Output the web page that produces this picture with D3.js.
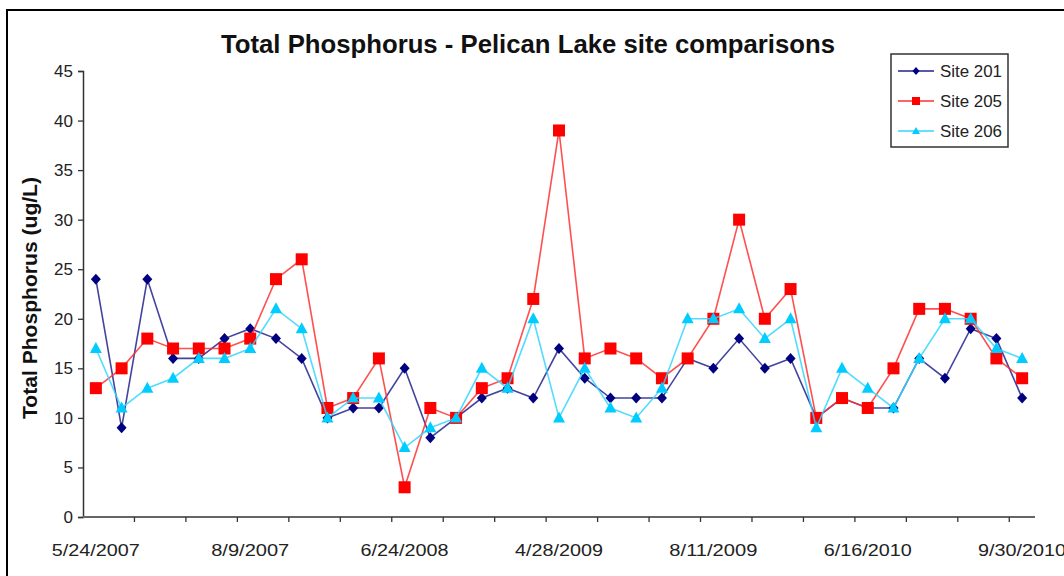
<!DOCTYPE html>
<html>
<head>
<meta charset="utf-8">
<script src="https://cdn.jsdelivr.net/npm/d3@7"></script>
<style>
  html, body { margin: 0; padding: 0; background: #fff; }
  svg { display: block; font-family: "Liberation Sans", Arial, sans-serif; }
</style>
</head>
<body>
<svg id="chart" width="1064" height="576"></svg>
<script>
// ---- data ----
const categories = d3.range(37);
const tickLabels = ["5/24/2007", "8/9/2007", "6/24/2008", "4/28/2009", "8/11/2009", "6/16/2010", "9/30/2010"];
const labelEvery = 6;
const site201 = [24, 9, 24, 16, 16, 18, 19, 18, 16, 10, 11, 11, 15, 8, 10, 12, 13, 12, 17, 14, 12, 12, 12, 16, 15, 18, 15, 16, 10, 12, 11, 11, 16, 14, 19, 18, 12];
const site205 = [13, 15, 18, 17, 17, 17, 18, 24, 26, 11, 12, 16, 3, 11, 10, 13, 14, 22, 39, 16, 17, 16, 14, 16, 20, 30, 20, 23, 10, 12, 11, 15, 21, 21, 20, 16, 14];
const site206 = [17, 11, 13, 14, 16, 16, 17, 21, 19, 10, 12, 12, 7, 9, 10, 15, 13, 20, 10, 15, 11, 10, 13, 20, 20, 21, 18, 20, 9, 15, 13, 11, 16, 20, 20, 17, 16];
const yTicks = [0, 5, 10, 15, 20, 25, 30, 35, 40, 45];
const seriesNames = ["Site 201", "Site 205", "Site 206"];

const series = [
  { name: seriesNames[0], values: site201, color: "#000080", line: "#22228f", shape: "diamond" },
  { name: seriesNames[1], values: site205, color: "#ff0000", line: "#ff3030", shape: "square" },
  { name: seriesNames[2], values: site206, color: "#00ccff", line: "#33d6ff", shape: "triangle" }
];

const svg = d3.select("#chart");
const pLeft = 83, pRight = 1035, pTop = 71, pBottom = 517;

// outer border
svg.append("rect").attr("x", 7).attr("y", 10).attr("width", 1070).attr("height", 600)
  .attr("fill", "none").attr("stroke", "#000").attr("stroke-width", 2);

const x = d3.scaleBand().domain(categories).range([pLeft, pRight]).padding(0);
const y = d3.scaleLinear().domain([0, 45]).range([pBottom, pTop]);
const cx = i => x(i) + x.bandwidth() / 2;

// title
svg.append("text").attr("x", 528).attr("y", 53).attr("text-anchor", "middle")
  .attr("font-size", 25).attr("font-weight", "bold").attr("fill", "#111")
  .attr("textLength", 614).attr("lengthAdjust", "spacingAndGlyphs")
  .text("Total Phosphorus - Pelican Lake site comparisons");

// y axis
const yAxis = d3.axisLeft(y).tickValues(yTicks).tickSize(5).tickPadding(5);
const gy = svg.append("g").attr("transform", `translate(${pLeft},0)`).call(yAxis);
gy.select(".domain").attr("stroke", "#333").attr("stroke-width", 1.5);
gy.selectAll(".tick line").attr("stroke", "#333").attr("stroke-width", 1.3);
gy.selectAll(".tick text").attr("font-size", 17).attr("fill", "#222")
  .attr("font-family", "Liberation Sans, Arial, sans-serif");

// x axis: ticks between categories, every 2 categories
const boundaryTicks = d3.range(0, categories.length + 1, 2).filter(k => k > 0 && k < categories.length);
const gx = svg.append("g").attr("transform", `translate(0,${pBottom})`);
gx.append("line").attr("x1", pLeft).attr("x2", pRight).attr("y1", 0).attr("y2", 0)
  .attr("stroke", "#666").attr("stroke-width", 2);
gx.selectAll("line.tk").data(boundaryTicks).enter().append("line").attr("class", "tk")
  .attr("x1", k => x(k)).attr("x2", k => x(k)).attr("y1", 0).attr("y2", 5)
  .attr("stroke", "#333").attr("stroke-width", 1.3);
gx.selectAll("text").data(tickLabels).enter().append("text")
  .attr("x", (d, i) => cx(i * labelEvery)).attr("y", 39).attr("text-anchor", "middle")
  .attr("font-size", 17).attr("fill", "#222")
  .attr("textLength", 88).attr("lengthAdjust", "spacingAndGlyphs")
  .text(d => d);
gx.selectAll("text").filter(d => d.length === 8).attr("textLength", 78);

// y axis title
svg.append("text").attr("transform", `translate(37,${(pTop + pBottom) / 2 + 4}) rotate(-90)`)
  .attr("text-anchor", "middle").attr("font-size", 20).attr("font-weight", "bold").attr("fill", "#111")
  .attr("textLength", 242).attr("lengthAdjust", "spacingAndGlyphs")
  .text("Total Phosphorus (ug/L)");

// markers
function marker(g, shape, color, px, py) {
  if (shape === "diamond") {
    g.append("path").attr("d", `M${px},${py - 5.5}L${px + 5},${py}L${px},${py + 5.5}L${px - 5},${py}Z`).attr("fill", color);
  } else if (shape === "square") {
    g.append("rect").attr("x", px - 6).attr("y", py - 6).attr("width", 12).attr("height", 12).attr("fill", color);
  } else {
    g.append("path").attr("d", `M${px},${py - 6.5}L${px + 6},${py + 4.5}L${px - 6},${py + 4.5}Z`).attr("fill", color);
  }
}

const line = d3.line().x((d, i) => cx(i)).y(d => y(d));
series.forEach(s => {
  const g = svg.append("g");
  g.append("path").attr("d", line(s.values)).attr("fill", "none")
    .attr("stroke", s.line).attr("stroke-width", 1.6).attr("stroke-opacity", 0.85);
  s.values.forEach((v, i) => marker(g, s.shape, s.color, cx(i), y(v)));
});

// legend
const lg = svg.append("g");
lg.append("rect").attr("x", 891).attr("y", 54).attr("width", 117).attr("height", 93)
  .attr("fill", "#fff").attr("stroke", "#333").attr("stroke-width", 1.5);
series.forEach((s, i) => {
  const ly = 71 + i * 30;
  lg.append("line").attr("x1", 898).attr("x2", 934).attr("y1", ly).attr("y2", ly)
    .attr("stroke", s.line).attr("stroke-width", 1.6);
  const mg = lg.append("g");
  if (s.shape === "diamond") {
    mg.append("path").attr("d", `M916,${ly - 4}L919.5,${ly}L916,${ly + 4}L912.5,${ly}Z`).attr("fill", s.color);
  } else if (s.shape === "square") {
    mg.append("rect").attr("x", 912).attr("y", ly - 4).attr("width", 8).attr("height", 8).attr("fill", s.color);
  } else {
    mg.append("path").attr("d", `M916,${ly - 4}L920,${ly + 3}L912,${ly + 3}Z`).attr("fill", s.color);
  }
  lg.append("text").attr("x", 940).attr("y", ly + 6).attr("font-size", 16).attr("fill", "#222")
    .attr("textLength", 62).attr("lengthAdjust", "spacingAndGlyphs").text(s.name);
});
</script>
</body>
</html>
